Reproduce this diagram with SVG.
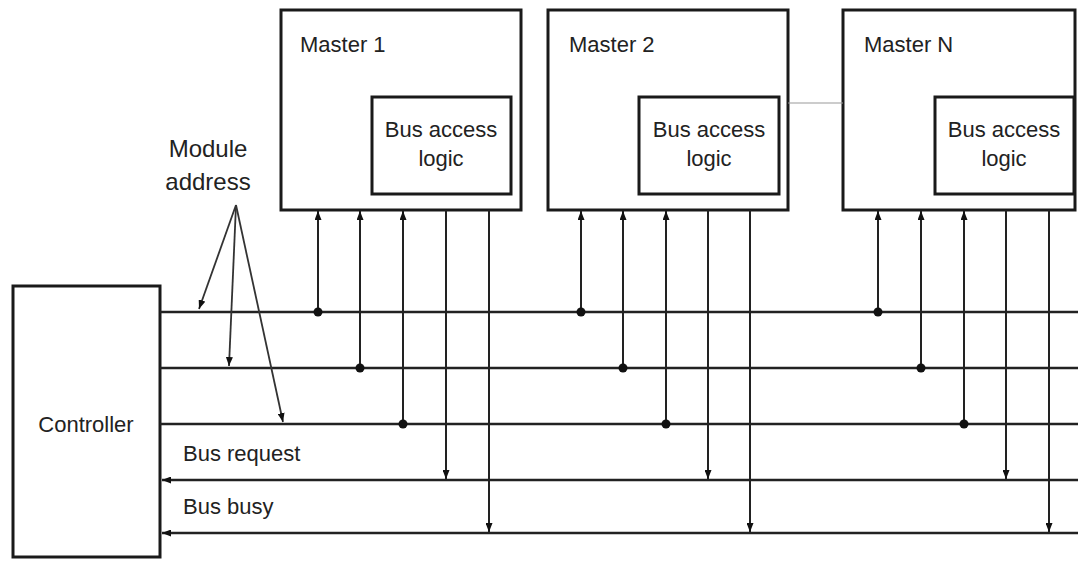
<svg xmlns="http://www.w3.org/2000/svg" width="1078" height="562" viewBox="0 0 1078 562">
  <style>
    .box { fill: #fff; stroke: #1a1a1a; stroke-width: 3; }
    .bus { stroke: #222; stroke-width: 2.5; fill: none; }
    .tap { stroke: #222; stroke-width: 2; fill: none; }
    .ptr { stroke: #333; stroke-width: 1.8; fill: none; }
    .dot { fill: #111; }
    .lbl { font-family: "Liberation Sans", Arial, sans-serif; font-size: 22px; fill: #222; }
    .big { font-size: 24px; }
    .mid { text-anchor: middle; }
  </style>
  <defs>
    <marker id="arr" viewBox="0 0 9 7" refX="9" refY="3.5" markerWidth="9" markerHeight="7" markerUnits="userSpaceOnUse" orient="auto">
      <path d="M0,0 L9,3.5 L0,7 z" fill="#111"/>
    </marker>
  </defs>

  <!-- controller -->
  <g id="controller">
    <rect class="box" x="13" y="286" width="147" height="271"/>
    <text class="lbl mid" x="86" y="432">Controller</text>
  </g>

  <!-- masters -->
  <g id="master1">
    <rect class="box" x="281" y="10" width="240" height="200"/>
    <text class="lbl" x="300" y="52">Master 1</text>
    <rect class="box" x="372" y="97" width="139" height="97"/>
    <text class="lbl mid" x="441" y="137">Bus access</text>
    <text class="lbl mid" x="441" y="166">logic</text>
  </g>
  <g id="master2">
    <rect class="box" x="548" y="10" width="240" height="200"/>
    <text class="lbl" x="569" y="52">Master 2</text>
    <rect class="box" x="639" y="97" width="140" height="97"/>
    <text class="lbl mid" x="709" y="137">Bus access</text>
    <text class="lbl mid" x="709" y="166">logic</text>
  </g>
  <g id="masterN">
    <rect class="box" x="843" y="10" width="232" height="200"/>
    <text class="lbl" x="864" y="52">Master N</text>
    <rect class="box" x="935" y="97" width="139" height="97"/>
    <text class="lbl mid" x="1004" y="137">Bus access</text>
    <text class="lbl mid" x="1004" y="166">logic</text>
  </g>

  <!-- labels -->
  <g id="labels">
    <text class="lbl big mid" x="208" y="157">Module</text>
    <text class="lbl big mid" x="208" y="190">address</text>
    <text class="lbl" x="183" y="461">Bus request</text>
    <text class="lbl" x="183" y="514">Bus busy</text>
  </g>

  <g id="connectors">
    <!-- gap marker between master 2 and master N -->
    <line x1="788" y1="103" x2="843" y2="103" stroke="#999" stroke-width="1"/>

    <!-- address bus lines -->
    <line class="bus" x1="160" y1="312" x2="1078" y2="312"/>
    <line class="bus" x1="160" y1="368" x2="1078" y2="368"/>
    <line class="bus" x1="160" y1="424" x2="1078" y2="424"/>
    <!-- bus request / bus busy, driven toward controller -->
    <line class="bus" x1="1078" y1="480" x2="162" y2="480" marker-end="url(#arr)"/>
    <line class="bus" x1="1078" y1="533" x2="162" y2="533" marker-end="url(#arr)"/>

    <!-- module address pointers -->
    <line class="ptr" x1="236" y1="205" x2="199" y2="309" marker-end="url(#arr)"/>
    <line class="ptr" x1="236" y1="205" x2="229" y2="366" marker-end="url(#arr)"/>
    <line class="ptr" x1="236" y1="205" x2="283" y2="422" marker-end="url(#arr)"/>

    <!-- master 1 taps -->
    <line class="tap" x1="318" y1="312" x2="318" y2="211" marker-end="url(#arr)"/>
    <line class="tap" x1="360" y1="368" x2="360" y2="211" marker-end="url(#arr)"/>
    <line class="tap" x1="403" y1="424" x2="403" y2="211" marker-end="url(#arr)"/>
    <line class="tap" x1="446" y1="210" x2="446" y2="479" marker-end="url(#arr)"/>
    <line class="tap" x1="489" y1="210" x2="489" y2="532" marker-end="url(#arr)"/>
    <circle class="dot" cx="318" cy="312" r="4.5"/>
    <circle class="dot" cx="360" cy="368" r="4.5"/>
    <circle class="dot" cx="403" cy="424" r="4.5"/>

    <!-- master 2 taps -->
    <line class="tap" x1="581" y1="312" x2="581" y2="211" marker-end="url(#arr)"/>
    <line class="tap" x1="623" y1="368" x2="623" y2="211" marker-end="url(#arr)"/>
    <line class="tap" x1="666" y1="424" x2="666" y2="211" marker-end="url(#arr)"/>
    <line class="tap" x1="708" y1="210" x2="708" y2="479" marker-end="url(#arr)"/>
    <line class="tap" x1="750" y1="210" x2="750" y2="532" marker-end="url(#arr)"/>
    <circle class="dot" cx="581" cy="312" r="4.5"/>
    <circle class="dot" cx="623" cy="368" r="4.5"/>
    <circle class="dot" cx="666" cy="424" r="4.5"/>

    <!-- master N taps -->
    <line class="tap" x1="878" y1="312" x2="878" y2="211" marker-end="url(#arr)"/>
    <line class="tap" x1="921" y1="368" x2="921" y2="211" marker-end="url(#arr)"/>
    <line class="tap" x1="964" y1="424" x2="964" y2="211" marker-end="url(#arr)"/>
    <line class="tap" x1="1006" y1="210" x2="1006" y2="479" marker-end="url(#arr)"/>
    <line class="tap" x1="1049" y1="210" x2="1049" y2="532" marker-end="url(#arr)"/>
    <circle class="dot" cx="878" cy="312" r="4.5"/>
    <circle class="dot" cx="921" cy="368" r="4.5"/>
    <circle class="dot" cx="964" cy="424" r="4.5"/>
  </g>
</svg>
